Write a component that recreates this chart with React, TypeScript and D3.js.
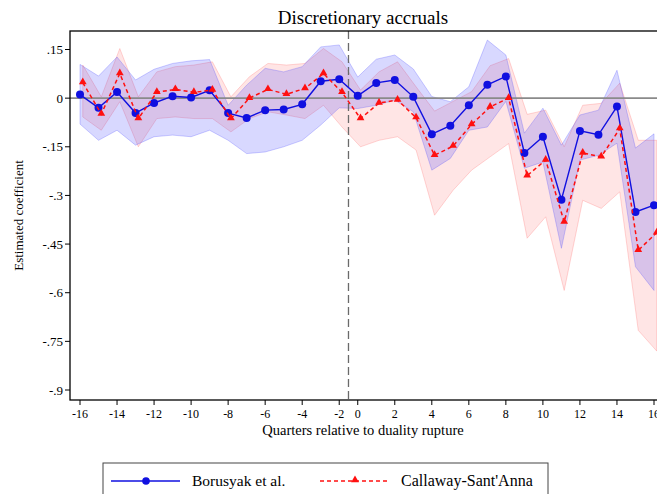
import * as d3 from 'd3';

// event time (quarter -1 is the omitted reference period)
const quarters = [-16, -15, -14, -13, -12, -11, -10, -9, -8, -7, -6, -5, -4, -3, -2,
  0, 1, 2, 3, 4, 5, 6, 7, 8, 9, 10, 11, 12, 13, 14, 15, 16];

const bjsCoef = [0.011, -0.030, 0.019, -0.046, -0.015, 0.006, 0.002, 0.024, -0.046, -0.061, -0.037, -0.035, -0.019, 0.052, 0.058,
  0.007, 0.047, 0.056, 0.004, -0.111, -0.085, -0.022, 0.041, 0.067, -0.169, -0.119, -0.313, -0.101, -0.113, -0.026, -0.351, -0.330];
const bjsHi = [0.104, 0.068, 0.127, 0.056, 0.089, 0.107, 0.115, 0.119, -0.022, 0.040, 0.092, 0.081, 0.097, 0.158, 0.164,
  0.065, 0.120, 0.133, 0.090, 0.005, -0.011, 0.035, 0.179, 0.133, -0.108, -0.031, -0.145, -0.052, -0.037, 0.086, -0.154, -0.110];
const bjsLo = [-0.080, -0.130, -0.099, -0.145, -0.119, -0.114, -0.119, -0.099, -0.130, -0.171, -0.166, -0.150, -0.130, -0.083, -0.030,
  -0.032, -0.022, -0.006, -0.042, -0.222, -0.186, -0.099, -0.089, -0.010, -0.216, -0.197, -0.463, -0.191, -0.176, -0.139, -0.520, -0.593];

const csCoef = [0.048, -0.049, 0.076, -0.063, 0.018, 0.027, 0.018, 0.025, -0.063, 0.000, 0.027, 0.012, 0.030, 0.076, 0.018,
  -0.063, -0.015, -0.006, -0.060, -0.176, -0.148, -0.081, -0.027, 0.000, -0.239, -0.191, -0.382, -0.169, -0.181, -0.094, -0.469, -0.415];
const csHi = [0.102, 0.004, 0.153, 0.004, 0.081, 0.097, 0.102, 0.112, 0.004, 0.066, 0.107, 0.102, 0.107, 0.153, 0.112,
  0.025, 0.081, 0.112, 0.035, -0.040, -0.010, 0.020, 0.100, 0.122, -0.050, -0.037, -0.150, -0.022, -0.016, 0.046, -0.130, -0.130];
const csLo = [-0.058, -0.099, -0.011, -0.150, -0.063, -0.058, -0.063, -0.063, -0.104, -0.063, -0.042, -0.052, -0.063, -0.022, -0.089,
  -0.150, -0.130, -0.119, -0.160, -0.361, -0.284, -0.222, -0.181, -0.140, -0.432, -0.366, -0.593, -0.315, -0.340, -0.289, -0.716, -0.780];

const yTicks = [0.15, 0, -0.15, -0.3, -0.45, -0.6, -0.75, -0.9];
const yTickLabels = ['.15', '0', '-.15', '-.3', '-.45', '-.6', '-.75', '-.9'];
const xTicks = [-16, -14, -12, -10, -8, -6, -4, -2, 0, 2, 4, 6, 8, 10, 12, 14, 16];

const W = 657;
const H = 494;
const FONT = '"Liberation Serif", "DejaVu Serif", serif';

// quarter -> slot on the axis (-1 has no slot)
const slot = (q: number) => (q < 0 ? q + 16 : q + 15);

export default function App() {
  const left = 70, top = 31, bottom = 400, right = 668;
  const x = d3.scaleLinear().domain([0, 31]).range([80, 654]);
  const y = d3.scaleLinear().domain([0.15, -0.9]).range([49.5, 390]);

  const idx = quarters.map((_, i) => i);
  const off = 0.15; // CS estimates are nudged right a little

  const band = (hi: number[], lo: number[], dx: number) =>
    d3.area<number>()
      .x(i => x(slot(quarters[i]) + dx))
      .y0(i => y(lo[i]))
      .y1(i => y(hi[i]))(idx) || '';

  const line = (vals: number[], dx: number) =>
    d3.line<number>()
      .x(i => x(slot(quarters[i]) + dx))
      .y(i => y(vals[i]))(idx) || '';

  const tri = d3.symbol().type(d3.symbolTriangle).size(26)() || '';

  return (
    <svg width={W} height={H} style={{ position: 'absolute', left: 0, top: 0, background: '#fff' }}
      fontFamily={FONT}>
      <text x={363} y={24} textAnchor="middle" fontSize={19}>Discretionary accruals</text>

      {/* confidence bands */}
      <path d={band(csHi, csLo, off)} fill="rgba(255,0,0,0.1)" stroke="rgba(255,90,90,0.25)" strokeWidth={1} />
      <path d={band(bjsHi, bjsLo, 0)} fill="rgba(40,40,255,0.18)" stroke="rgba(60,60,255,0.25)" strokeWidth={1} />

      {/* zero line and treatment marker */}
      <line x1={left} x2={right} y1={y(0)} y2={y(0)} stroke="#8a8a8a" strokeWidth={1.6} />
      <line x1={(x(14) + x(15)) / 2} x2={(x(14) + x(15)) / 2} y1={top} y2={bottom}
        stroke="#6a6a6a" strokeWidth={1.3} strokeDasharray="8,4" />

      {/* estimates */}
      <path d={line(bjsCoef, 0)} fill="none" stroke="#1010e0" strokeWidth={1.4} />
      {idx.map(i => (
        <circle key={'b' + i} cx={x(slot(quarters[i]))} cy={y(bjsCoef[i])} r={4} fill="#1010e0" />
      ))}
      <path d={line(csCoef, off)} fill="none" stroke="#ff1010" strokeWidth={1.5} strokeDasharray="4,3" />
      {idx.map(i => (
        <path key={'c' + i} d={tri} fill="#ff1010"
          transform={`translate(${x(slot(quarters[i]) + off)},${y(csCoef[i]) - 0.5})`} />
      ))}

      {/* frame */}
      <rect x={left} y={top} width={right - left} height={bottom - top} fill="none" stroke="#000" strokeWidth={1.3} />

      {/* y axis */}
      {yTicks.map((t, i) => (
        <g key={'y' + i}>
          <line x1={left - 5} x2={left} y1={y(t)} y2={y(t)} stroke="#000" strokeWidth={1} />
          <text x={left - 7} y={y(t) + 4.5} textAnchor="end" fontSize={13}>{yTickLabels[i]}</text>
        </g>
      ))}
      <text transform={`translate(23,${(top + bottom) / 2}) rotate(-90)`} textAnchor="middle" fontSize={13}>
        Estimated coefficient
      </text>

      {/* x axis */}
      {xTicks.map(t => (
        <g key={'x' + t}>
          <line x1={x(slot(t))} x2={x(slot(t))} y1={bottom} y2={bottom + 5} stroke="#000" strokeWidth={1} />
          <text x={x(slot(t))} y={bottom + 18} textAnchor="middle" fontSize={12}>{t}</text>
        </g>
      ))}
      <text x={363} y={435} textAnchor="middle" fontSize={14.5}>Quarters relative to duality rupture</text>

      {/* legend */}
      <rect x={103} y={463} width={445} height={45} fill="#fff" stroke="#444" strokeWidth={1} />
      <line x1={111} x2={180} y1={481} y2={481} stroke="#1010e0" strokeWidth={1.6} />
      <circle cx={146} cy={481} r={3.8} fill="#1010e0" />
      <text x={192} y={486} fontSize={15.5}>Borusyak et al.</text>
      <line x1={320} x2={389} y1={481} y2={481} stroke="#ff1010" strokeWidth={1.5} strokeDasharray="4,3" />
      <path d={tri} fill="#ff1010" transform="translate(355,480)" />
      <text x={401} y={486} fontSize={16}>Callaway-Sant'Anna</text>
    </svg>
  );
}
